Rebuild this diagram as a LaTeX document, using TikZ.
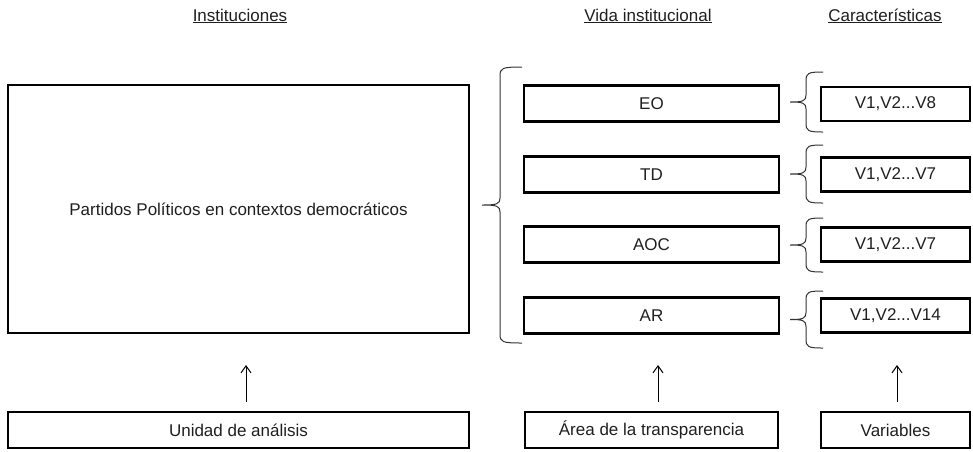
\documentclass[tikz,border=0pt]{standalone}
\usepackage{fontspec}
\setmainfont{Liberation Sans}
\usetikzlibrary{arrows.meta}
\newcommand\mybrace[5]{%
 \pgfmathsetmacro\bm{(#4+#5)/2}%
 \draw[brc] (#1,#4) .. controls (#2+2,#4) and (#2,#4+1) .. (#2,#4+9)
   -- (#2,\bm-7) .. controls (#2,\bm-1) and (#2-3,\bm) .. (#3,\bm)
   .. controls (#2-3,\bm) and (#2,\bm+1) .. (#2,\bm+7)
   -- (#2,#5-9) .. controls (#2,#5-1) and (#2+2,#5) .. (#1,#5);}
\begin{document}
\begin{tikzpicture}[x=1pt,y=-1pt,
  box/.style={draw=black,line width=2.6pt,minimum height=36pt,inner sep=0pt,text=black!88,font=\fontsize{17}{20}\selectfont},
  hdr/.style={font=\fontsize{17}{20}\selectfont,text=black!88,inner sep=0pt,anchor=base},
  brc/.style={draw=black!80,line width=1pt},
  arr/.style={-{Straight Barb[length=7pt,width=10pt]},line width=1pt}]
\useasboundingbox (0,0) rectangle (973,451);

% headers
\node[hdr] (h1) at (240,21) {\underline{Instituciones}};
\node[hdr] (h2) at (648,21) {\underline{Vida institucional}};
\node[hdr] (h3) at (885,21) {\underline{Características}};

% main box
\node[box,minimum width=461pt,minimum height=248pt] (pp) at (238.5,209) {Partidos Políticos en contextos democráticos};

% middle boxes
\node[box,minimum width=255pt] (eo)  at (651.5,103.5) {EO};
\node[box,minimum width=255pt] (td)  at (651.5,174.5) {TD};
\node[box,minimum width=255pt] (aoc) at (651.5,244.5) {AOC};
\node[box,minimum width=255pt] (ar)  at (651.5,315.5) {AR};

% right boxes
\node[box,minimum width=149pt,minimum height=34pt] (v1) at (895.5,104) {V1,V2...V8};
\node[box,minimum width=149pt,minimum height=34pt] (v2) at (895.5,174.5) {V1,V2...V7};
\node[box,minimum width=149pt,minimum height=34pt] (v3) at (895.5,244.5) {V1,V2...V7};
\node[box,minimum width=149pt,minimum height=34pt] (v4) at (895.5,315.5) {V1,V2...V14};

% braces
\mybrace{522}{500}{482}{67}{343}
\mybrace{823}{806}{790}{72}{132}
\mybrace{823}{806}{790}{145}{203}
\mybrace{823}{806}{790}{218}{272}
\mybrace{823}{806}{790}{291}{348}

% bottom boxes
\node[box,minimum width=461pt] (ua) at (238.5,430) {Unidad de análisis};
\node[box,minimum width=253pt] (at) at (651.5,430) {Área de la transparencia};
\node[box,minimum width=149pt] (va) at (895.5,430) {Variables};

% arrows
\coordinate (a1) at (246,365);
\coordinate (a2) at (658,365);
\coordinate (a3) at (897,365);
\draw[arr] ([shift={(7.5,-9)}]ua.north) -- (a1);
\draw[arr] ([shift={(6.5,-9)}]at.north) -- (a2);
\draw[arr] ([shift={(1.5,-9)}]va.north) -- (a3);
\end{tikzpicture}
\end{document}
